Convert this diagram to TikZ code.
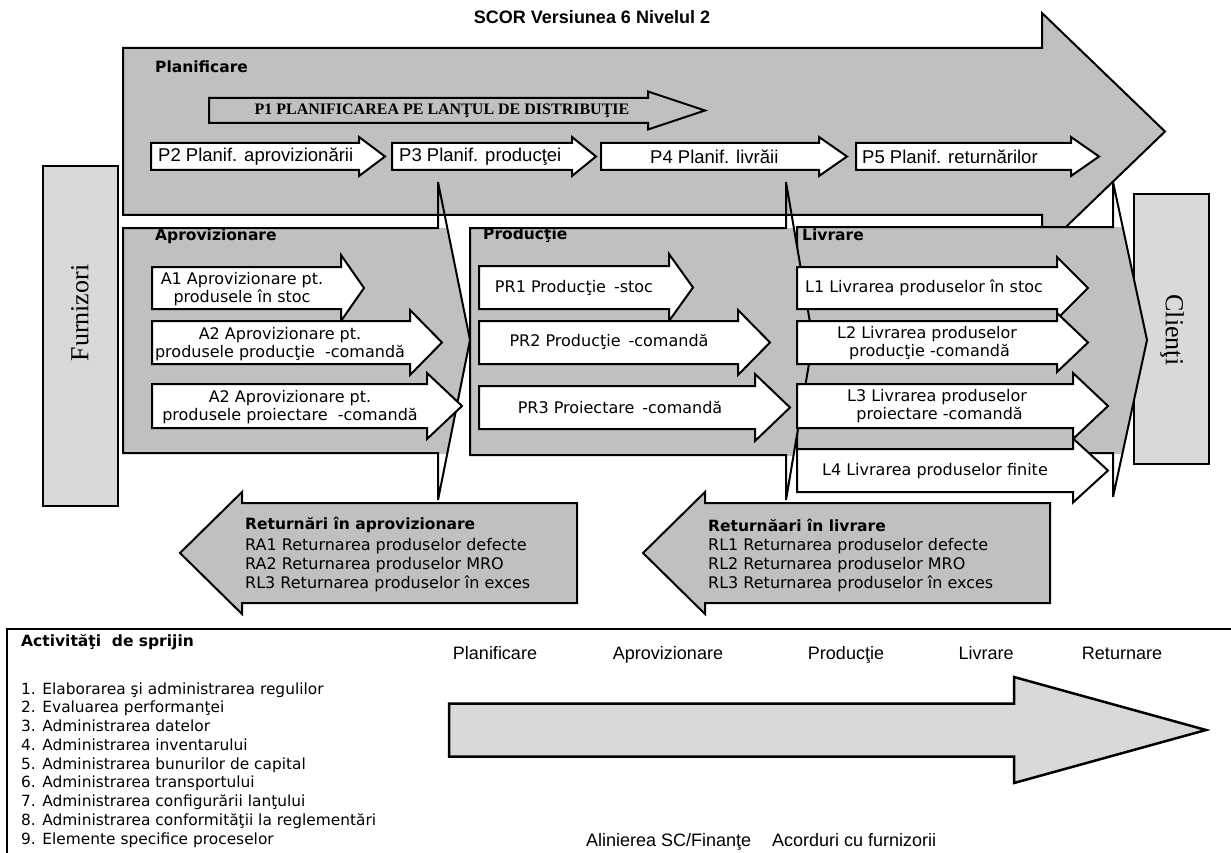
\documentclass[tikz,border=0pt]{standalone}
\usepackage{fontspec}
\setmainfont{DejaVu Sans}
\newfontfamily\arialf{Liberation Sans}
\newfontfamily\tnr{Liberation Serif}

\definecolor{blockgray}{HTML}{C0C0C0}
\definecolor{boxgray}{HTML}{D9D9D9}

\tikzset{
  outl/.style={draw=black, line width=2pt, line join=miter, miter limit=4},
  warrow/.style={outl, fill=white},
  garrow/.style={outl, fill=blockgray},
  vtext/.style={inner sep=0pt, font=\fontsize{16}{18}\selectfont, align=center},
  vtextl/.style={inner sep=0pt, font=\fontsize{16}{19}\selectfont, anchor=west},
  listtext/.style={inner sep=0pt, font=\fontsize{15.4}{19}\selectfont, anchor=base west},
  ptext/.style={inner sep=0pt, anchor=west, font=\arialf\fontsize{18.5}{22}\selectfont},
  btext/.style={inner sep=0pt, anchor=base, font=\arialf\fontsize{18}{22}\selectfont},
  hdr/.style={inner sep=0pt, anchor=west, font=\fontsize{15.5}{18}\selectfont\bfseries},
  sidebox/.style={draw=black, line width=2pt, fill=boxgray, inner sep=0pt, anchor=north west},
  sidefont/.style={inner sep=0pt, font=\tnr\fontsize{26}{30}\selectfont},
}

% block arrow: #1 style, #2 tail x, #3 notch x, #4 tip x, #5 centre y, #6 half body, #7 half head
\newcommand{\BlockArrow}[7]{%
  \path[#1] (#2,{#5-#6}) -- (#3,{#5-#6}) -- (#3,{#5-#7}) -- (#4,#5)
    -- (#3,{#5+#7}) -- (#3,{#5+#6}) -- (#2,{#5+#6}) -- cycle;}

% process section with a tall narrow head:
% #1 left x, #2 top y, #3 bottom y, #4 head base x, #5 head top y, #6 tip x, #7 tip y, #8 head bottom y
\newcommand{\SecBlock}[8]{%
  \begin{scope}
    \clip (#1,#2) rectangle (#6,#3);
    \fill[blockgray] (#1,#2) -- (#4,#2) -- (#4,#5) -- (#6,#7) -- (#4,#8) -- (#4,#3) -- (#1,#3) -- cycle;
  \end{scope}
  \draw[outl] (#1,#2) -- (#4,#2) -- (#4,#5) -- (#6,#7) -- (#4,#8) -- (#4,#3) -- (#1,#3) -- cycle;}

\begin{document}
\begin{tikzpicture}[x=1pt,y=-1pt]
\useasboundingbox (0,0) rectangle (1231,853);

% heading
\node[inner sep=0pt, font=\arialf\bfseries\fontsize{18}{20}\selectfont] (title) at (592,17) {SCOR Versiunea 6 Nivelul 2};

% customers and suppliers
\node[sidebox, minimum width=75, minimum height=270] (clienti) at (1133,193) {};
\node[sidefont, rotate=-90] (clientilbl) at (1172,330) {Clienţi};
\node[sidebox, minimum width=75, minimum height=340] (furnizori) at (42,165) {};
\node[sidefont, rotate=90] (furnlbl) at (80,313) {Furnizori};

% planning band
\BlockArrow{garrow}{123}{1042}{1165}{131.5}{83.5}{118.5}
\node[hdr] (planlbl) at (155,67) {Planificare};

\BlockArrow{garrow}{209}{648}{705}{110.5}{12.5}{19}
\node[inner sep=0pt, font=\tnr\bfseries\fontsize{16}{18}\selectfont] (p1) at (442,111) {P1 PLANIFICAREA PE LANŢUL DE DISTRIBUŢIE};

\BlockArrow{warrow}{151}{359}{385}{156.5}{13.5}{19.5}
\BlockArrow{warrow}{392}{572}{596}{156.5}{13.5}{19.5}
\BlockArrow{warrow}{601}{819}{847}{156.5}{13.5}{19.5}
\BlockArrow{warrow}{856}{1071}{1099}{156.5}{13.5}{19.5}
\node[ptext] (p2) at (158,157) {P2 Planif. aprovizionării};
\node[ptext] (p3) at (399,157) {P3 Planif. producţei};
\node[ptext] (p4) at (650,157) {P4 Planif. livrăii};
\node[ptext] (p5) at (862,157) {P5 Planif. returnărilor};

% execution sections
\SecBlock{797}{227}{453}{1113}{182}{1147}{340}{497}
\SecBlock{470}{228}{455}{786}{182}{813}{340}{500}
\SecBlock{123}{228}{453}{438}{182}{470}{340}{500}
\node[hdr] (aprovlbl) at (155,236) {Aprovizionare};
\node[hdr] (prodlbl) at (483,235) {Producţie};
\node[hdr] (livlbl) at (802,235) {Livrare};

% sourcing
\BlockArrow{warrow}{152}{341}{364}{288}{21}{33}
\BlockArrow{warrow}{152}{410}{442}{342.5}{21.5}{32.5}
\BlockArrow{warrow}{152}{427}{462}{406}{22}{33}
\node[vtext] (a1) at (242,289) {A1 Aprovizionare pt.\\produsele în stoc};
\node[vtext] (a2) at (280,344) {A2 Aprovizionare pt.\\produsele producţie\ \ -comandă};
\node[vtext] (a3) at (290,407) {A2 Aprovizionare pt.\\produsele proiectare\ \ -comandă};

% production
\BlockArrow{warrow}{479}{669}{693}{287.5}{21.5}{33.5}
\BlockArrow{warrow}{479}{738}{770}{342.5}{21.5}{32.5}
\BlockArrow{warrow}{479}{755}{790}{407.5}{21.5}{33.5}
\node[vtext] (pr1) at (574,288) {PR1 Producţie\enspace-stoc};
\node[vtext] (pr2) at (609,342) {PR2 Producţie\enspace-comandă};
\node[vtext] (pr3) at (620,407) {PR3 Proiectare\enspace-comandă};

% delivery
\BlockArrow{warrow}{797}{1057}{1088}{288}{21}{31}
\BlockArrow{warrow}{797}{1057}{1088}{342.5}{21.5}{29.5}
\BlockArrow{warrow}{797}{1073}{1108}{406}{22}{33}
\BlockArrow{warrow}{797}{1073}{1108}{470.5}{21.5}{32}
\node[vtext] (l1) at (924,288) {L1 Livrarea produselor în stoc};
\node[vtext] (l2) at (927,343) {L2 Livrarea produselor\\\ producţie -comandă};
\node[vtext] (l3) at (937,406) {L3 Livrarea produselor\\\ proiectare -comandă};
\node[vtext] (l4) at (935,471) {L4 Livrarea produselor finite};

% returns
\BlockArrow{garrow}{577}{242}{180}{553}{50}{61}
\node[hdr] (ra) at (245,525) {Returnări în aprovizionare};
\node[vtextl] (ra1) at (245,546) {RA1 Returnarea produselor defecte};
\node[vtextl] (ra2) at (245,565) {RA2 Returnarea produselor MRO};
\node[vtextl] (ra3) at (245,584) {RL3 Returnarea produselor în exces};

\BlockArrow{garrow}{1050}{705}{643}{553}{50}{61}
\node[hdr] (rl) at (708,525) {Returnăari în livrare};
\node[vtextl] (rl1) at (708,546) {RL1 Returnarea produselor defecte};
\node[vtextl] (rl2) at (708,565) {RL2 Returnarea produselor MRO};
\node[vtextl] (rl3) at (708,584) {RL3 Returnarea produselor în exces};

% support activities
\draw[line width=1.5pt] (7,853) -- (7,629) -- (1231,629);
\node[hdr] (sprijin) at (21,642) {Activităţi\ \ de sprijin};
\foreach \n/\t in {1/Elaborarea şi administrarea regulilor,
                   2/Evaluarea performanţei,
                   3/Administrarea datelor,
                   4/Administrarea inventarului,
                   5/Administrarea bunurilor de capital,
                   6/Administrarea transportului,
                   7/Administrarea configurării lanţului,
                   8/Administrarea conformităţii la reglementări,
                   9/Elemente specifice proceselor}
  \node[listtext] (item\n) at (21,{694+18.75*(\n-1)}) {\n. \t};

\BlockArrow{outl, fill=boxgray, line width=2.5pt}{449}{1014}{1206}{730}{26.5}{53}
\node[btext] (bplan) at (495,659) {Planificare};
\node[btext] (baprov) at (668,659) {Aprovizionare};
\node[btext] (bprod) at (846,659) {Producţie};
\node[btext] (bliv) at (986,659) {Livrare};
\node[btext] (bret) at (1122,659) {Returnare};
\node[btext, anchor=base west] (bfin) at (586,846) {Alinierea SC/Finanţe};
\node[btext, anchor=base west] (bfurn) at (772,846) {Acorduri cu furnizorii};
\end{tikzpicture}
\end{document}
